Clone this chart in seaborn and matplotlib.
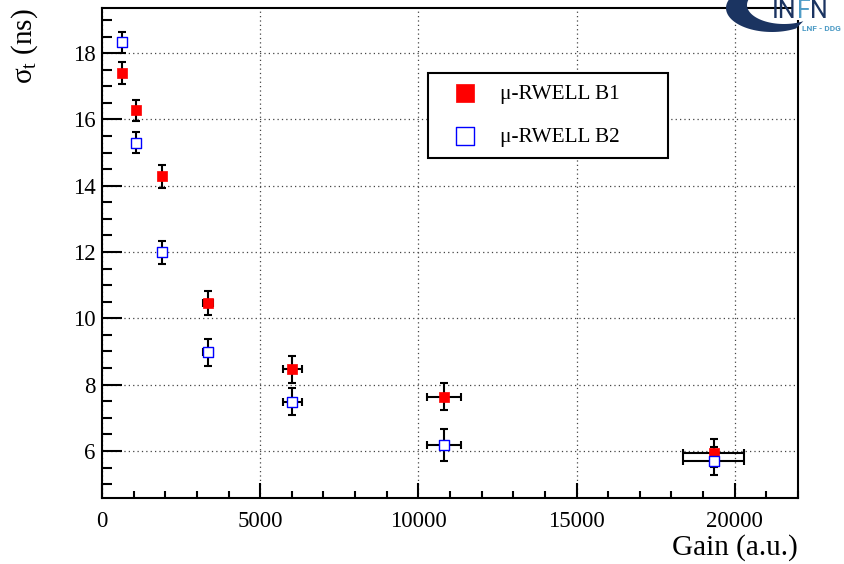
import numpy as np
import pandas as pd
import matplotlib
matplotlib.use("Agg")
import matplotlib.pyplot as plt
from matplotlib.ticker import MultipleLocator, FuncFormatter
from matplotlib.patches import Polygon, Rectangle
from matplotlib.text import Annotation
import seaborn as sns

# Timing resolution versus detector gain for two micro-RWELL prototypes
gain = [620, 1060, 1910, 3350, 6010, 10800, 19330]
gain_err = [31, 53, 96, 168, 300, 540, 970]

sigma_b1 = [17.39, 16.27, 14.28, 10.45, 8.46, 7.64, 5.95]
sigma_b1_err = [0.33, 0.33, 0.35, 0.36, 0.40, 0.42, 0.42]

sigma_b2 = [18.32, 15.30, 11.99, 8.97, 7.49, 6.18, 5.70]
sigma_b2_err = [0.32, 0.32, 0.35, 0.40, 0.42, 0.48, 0.42]

label_b1 = "\u03bc-RWELL B1"
label_b2 = "\u03bc-RWELL B2"

df_b1 = pd.DataFrame({"gain": gain, "sigma": sigma_b1})
df_b2 = pd.DataFrame({"gain": gain, "sigma": sigma_b2})

sns.set_theme(style="ticks")
serif = ["Liberation Serif", "DejaVu Serif"]
plt.rcParams["font.family"] = serif
plt.rcParams["mathtext.fontset"] = "custom"
plt.rcParams["mathtext.rm"] = "Liberation Serif"
plt.rcParams["mathtext.it"] = "Liberation Serif:italic"
plt.rcParams["text.color"] = "black"
plt.rcParams["axes.labelcolor"] = "black"
plt.rcParams["xtick.color"] = "black"
plt.rcParams["ytick.color"] = "black"
plt.rcParams["xtick.labelcolor"] = "black"
plt.rcParams["ytick.labelcolor"] = "black"

fig = plt.figure(figsize=(8.45, 5.64), dpi=100)
fig.patch.set_facecolor("white")
ax = fig.add_axes([0.1207, 0.1170, 0.8237, 0.8688])
ax.set_facecolor("white")

# error bars first, markers on top
ax.errorbar(gain, sigma_b1, xerr=gain_err, yerr=sigma_b1_err, fmt="none",
            ecolor="black", elinewidth=1.5, capsize=2.9, capthick=1.5, zorder=2)
ax.errorbar(gain, sigma_b2, xerr=gain_err, yerr=sigma_b2_err, fmt="none",
            ecolor="black", elinewidth=1.5, capsize=2.9, capthick=1.5, zorder=2)

sns.scatterplot(data=df_b1, x="gain", y="sigma", marker="s", s=62,
                color="#ff0000", edgecolor="#ff0000", linewidth=0.5,
                ax=ax, zorder=3, label=label_b1)
sns.scatterplot(data=df_b2, x="gain", y="sigma", marker="s", s=62,
                facecolor="white", edgecolor="#0000ff", linewidth=1.0,
                ax=ax, zorder=3, label=label_b2)

ax.set_xlim(0, 22000)
ax.set_ylim(4.58, 19.36)

ax.xaxis.set_major_locator(MultipleLocator(5000))
ax.xaxis.set_minor_locator(MultipleLocator(1000))
ax.yaxis.set_major_locator(MultipleLocator(2))
ax.yaxis.set_minor_locator(MultipleLocator(0.5))
ax.xaxis.set_major_formatter(FuncFormatter(lambda v, p: f"{v:.0f}"))
ax.yaxis.set_major_formatter(FuncFormatter(lambda v, p: f"{v:.0f}"))

ax.tick_params(axis="both", which="both", direction="in", width=1.5,
               colors="black", labelcolor="black", labelsize=16.5,
               top=False, right=False)
ax.tick_params(axis="x", which="major", length=10.8, pad=9)
ax.tick_params(axis="x", which="minor", length=5.4)
ax.tick_params(axis="y", which="major", length=14.4, pad=4.5)
ax.tick_params(axis="y", which="minor", length=7.2)

for side in ["left", "right", "top", "bottom"]:
    ax.spines[side].set_visible(True)
    ax.spines[side].set_color("black")
    ax.spines[side].set_linewidth(1.5)

ax.grid(True, which="major", color="#444444", linestyle=(0, (1, 2.5)),
        linewidth=0.9)
ax.set_axisbelow(True)

ax.set_xlabel("Gain (a.u.)", fontsize=21, loc="right", labelpad=2,
              color="black")
ax.set_ylabel("\u03c3$_\\mathregular{t}$ (ns)", fontsize=21, loc="top",
              color="black")
ax.yaxis.set_label_coords(-0.089, 1.0)

handles, labels = ax.get_legend_handles_labels()
leg = ax.legend(handles, labels, loc="upper left",
                bbox_to_anchor=(0.469, 0.692, 0.344, 0.175), mode="expand",
                borderaxespad=0, borderpad=0.5, labelspacing=1.1,
                handlelength=2.4, handletextpad=0.45, markerscale=1.7,
                fancybox=False, shadow=False, frameon=True,
                labelcolor="black",
                prop={"family": serif, "size": 15.3})
leg.get_frame().set_edgecolor("black")
leg.get_frame().set_linewidth(1.5)
leg.get_frame().set_facecolor("white")
leg.get_frame().set_alpha(1)

# laboratory logo in the top right corner
W, H = 845.0, 564.0


def fx(px):
    return px / W


def fy(py):
    return 1 - py / H


fig.add_artist(Rectangle((fx(792), fy(20)), fx(845) - fx(792), 20 / H,
                         transform=fig.transFigure, facecolor="white",
                         edgecolor="none", zorder=5))

t = np.linspace(-np.pi / 2 - 0.15, -3 * np.pi / 2 - 0.55, 60)
outer = np.column_stack([772 + 46 * np.cos(t), 8 + 24 * np.sin(t)])
t_in = t[::-1]
inner = np.column_stack([784 + 37 * np.cos(t_in), 5 + 19 * np.sin(t_in)])
pts = np.vstack([outer, inner])
pts_fig = np.column_stack([fx(pts[:, 0]), fy(pts[:, 1])])
fig.add_artist(Polygon(pts_fig, closed=True, transform=fig.transFigure,
                       facecolor="#1b3461", edgecolor="none", zorder=6))

logo_font = ["Roboto", "DejaVu Sans"]
navy = "#1b3461"
light = "#4f9cc6"
t1 = fig.text(fx(772), fy(18), "IN", color=navy, fontsize=18,
              family=logo_font, ha="left", va="baseline", zorder=7)
t2 = Annotation("F", xy=(1, 0), xycoords=t1, va="bottom", ha="left",
                color=light, fontsize=18, family=logo_font, zorder=7)
fig.add_artist(t2)
t3 = Annotation("N", xy=(1, 0), xycoords=t2, va="bottom", ha="left",
                color=navy, fontsize=18, family=logo_font, zorder=7)
fig.add_artist(t3)
fig.text(fx(802), fy(31), "LNF - DDG", color=light, fontsize=6.0,
         fontweight="bold", family=logo_font, fontstretch="condensed",
         ha="left", va="baseline", zorder=7)

fig.savefig("out.png", dpi=100)
